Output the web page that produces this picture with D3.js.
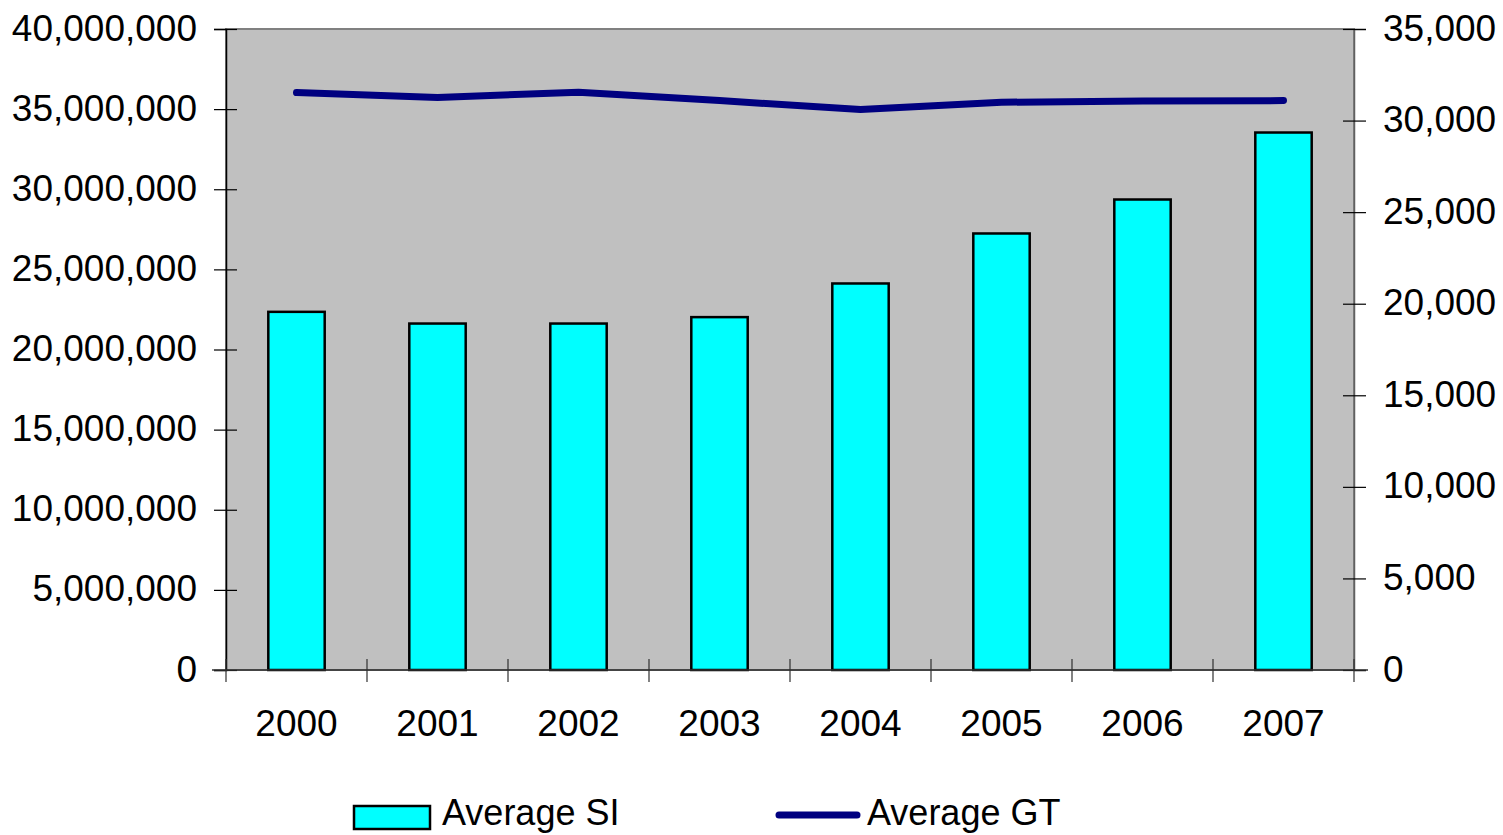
<!DOCTYPE html>
<html>
<head>
<meta charset="utf-8">
<script src="https://cdn.jsdelivr.net/npm/d3@7/dist/d3.min.js"></script>
<style>
  html, body { margin: 0; padding: 0; background: #ffffff; }
  svg { display: block; font-family: "Liberation Sans", Arial, sans-serif; }
</style>
</head>
<body>
<svg id="chart" width="1503" height="835"></svg>
<script>
// Yearly averages
const years = ["2000", "2001", "2002", "2003", "2004", "2005", "2006", "2007"];
const averageSI = [22350000, 21620000, 21620000, 22020000, 24120000, 27240000, 29360000, 33540000];
const averageGT = [31530, 31260, 31550, 31090, 30600, 31000, 31070, 31090];
const leftTicks = [0, 5000000, 10000000, 15000000, 20000000, 25000000, 30000000, 35000000, 40000000];
const rightTicks = [0, 5000, 10000, 15000, 20000, 25000, 30000, 35000];
const seriesNames = ["Average SI", "Average GT"];

const svg = d3.select("#chart");
const plot = { left: 226, right: 1354, top: 29, bottom: 670 };
const axisFont = 37;
const legendFont = 36;
const fmt = d3.format(",");

const x = d3.scaleBand()
  .domain(years)
  .range([plot.left, plot.right])
  .paddingInner(0.6)
  .paddingOuter(0.3);

// category boundaries for the x-axis tick marks
const xCat = d3.scaleBand().domain(years).range([plot.left, plot.right]).padding(0);

const yLeft = d3.scaleLinear().domain([0, 40000000]).range([plot.bottom, plot.top]);
const yRight = d3.scaleLinear().domain([0, 35000]).range([plot.bottom, plot.top]);

// plot area background
svg.append("rect")
  .attr("x", plot.left).attr("y", plot.top)
  .attr("width", plot.right - plot.left).attr("height", plot.bottom - plot.top)
  .attr("fill", "#c0c0c0")
  .attr("stroke", "#808080").attr("stroke-width", 2);

// bars
svg.append("g").selectAll("rect")
  .data(years.map((y, i) => ({ year: y, v: averageSI[i] })))
  .join("rect")
  .attr("x", d => x(d.year))
  .attr("y", d => yLeft(d.v))
  .attr("width", x.bandwidth())
  .attr("height", d => yLeft(0) - yLeft(d.v))
  .attr("fill", "#00ffff")
  .attr("stroke", "#000000")
  .attr("stroke-width", 2.5);

// line
const line = d3.line()
  .x((d, i) => x(years[i]) + x.bandwidth() / 2)
  .y(d => yRight(d));

svg.append("path")
  .datum(averageGT)
  .attr("d", line)
  .attr("fill", "none")
  .attr("stroke", "#000080")
  .attr("stroke-width", 7)
  .attr("stroke-linecap", "round")
  .attr("stroke-linejoin", "round");

// left axis
const gl = svg.append("g")
  .attr("transform", `translate(${plot.left},0)`)
  .call(d3.axisLeft(yLeft).tickValues(leftTicks).tickFormat(fmt).tickSize(12).tickPadding(17));
gl.select(".domain").attr("stroke", "#000000").attr("stroke-width", 1.5);
gl.selectAll(".tick line").attr("x1", 11).attr("x2", -12).attr("stroke", "#000000").attr("stroke-width", 1.2);
gl.selectAll(".tick text").attr("font-size", axisFont).attr("font-family", "Liberation Sans, Arial, sans-serif").attr("fill", "#000").attr("dy", "0.3em");

// right axis
const gr = svg.append("g")
  .attr("transform", `translate(${plot.right},0)`)
  .call(d3.axisRight(yRight).tickValues(rightTicks).tickFormat(fmt).tickSize(12).tickPadding(17));
gr.select(".domain").attr("stroke", "#606060").attr("stroke-width", 1.5);
gr.selectAll(".tick line").attr("x1", -11).attr("x2", 12).attr("stroke", "#000000").attr("stroke-width", 1.2);
gr.selectAll(".tick text").attr("font-size", axisFont).attr("font-family", "Liberation Sans, Arial, sans-serif").attr("fill", "#000").attr("dy", "0.3em");

// bottom axis: category boundary ticks + year labels
const gb = svg.append("g").attr("transform", `translate(0,${plot.bottom})`);
gb.append("line")
  .attr("x1", plot.left - 14).attr("x2", plot.right + 14)
  .attr("stroke", "#303030").attr("stroke-width", 1.5);
gb.selectAll("line.cat")
  .data(years.concat(["end"]))
  .join("line")
  .attr("class", "cat")
  .attr("x1", (d, i) => i < years.length ? xCat(d) : plot.right)
  .attr("x2", (d, i) => i < years.length ? xCat(d) : plot.right)
  .attr("y1", -11).attr("y2", 12)
  .attr("stroke", "#303030").attr("stroke-width", 1.2);
gb.selectAll("text")
  .data(years)
  .join("text")
  .attr("x", d => x(d) + x.bandwidth() / 2)
  .attr("y", 66)
  .attr("text-anchor", "middle")
  .attr("font-size", axisFont)
  .attr("fill", "#000")
  .text(d => d);

// legend
const lg = svg.append("g");
lg.append("rect")
  .attr("x", 354).attr("y", 806).attr("width", 76).attr("height", 23)
  .attr("fill", "#00ffff").attr("stroke", "#000").attr("stroke-width", 2.5);
lg.append("text")
  .attr("x", 442).attr("y", 825)
  .attr("font-size", legendFont).attr("fill", "#000")
  .text(seriesNames[0]);
lg.append("line")
  .attr("x1", 779).attr("x2", 857).attr("y1", 815).attr("y2", 815)
  .attr("stroke", "#000080").attr("stroke-width", 7).attr("stroke-linecap", "round");
lg.append("text")
  .attr("x", 867).attr("y", 825)
  .attr("font-size", legendFont).attr("fill", "#000")
  .text(seriesNames[1]);
</script>
</body>
</html>
